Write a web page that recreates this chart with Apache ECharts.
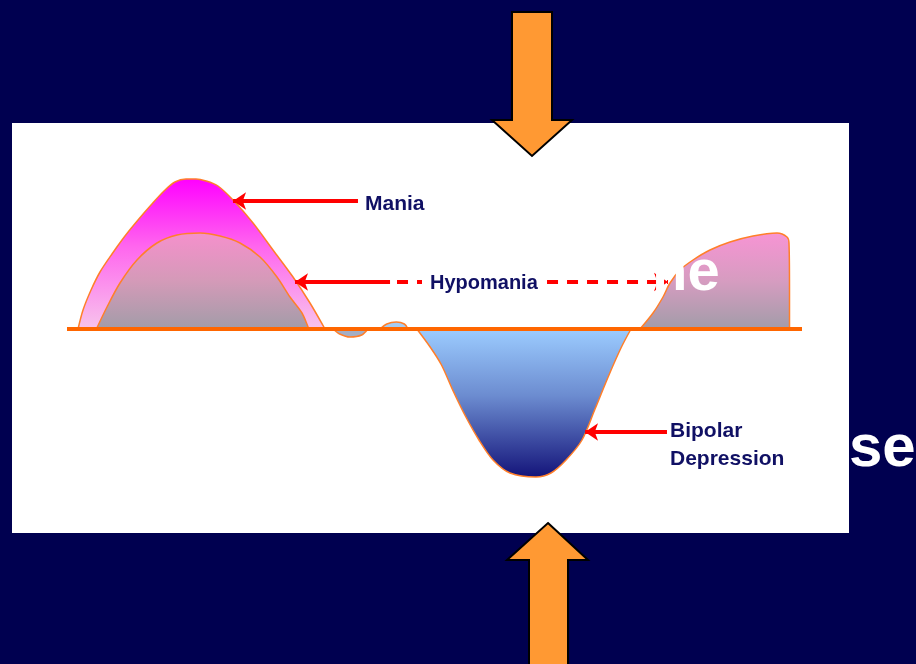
<!DOCTYPE html>
<html>
<head>
<meta charset="utf-8">
<script src="https://cdn.jsdelivr.net/npm/echarts@6/dist/echarts.min.js"></script>
<style>
  html, body { margin: 0; padding: 0; background: #000050; }
  #chart { width: 916px; height: 664px; }
</style>
</head>
<body>
<div id="chart"></div>
<script>
// ---- data (x: time units 0..100, y: mood units -100..100) ----
const maniaCurve = [[1.5,0],[2.18,9.5],[3.27,19.5],[4.49,28.5],[6.12,37.5],[7.89,46.5],[9.66,54.5],[11.43,62],[13.2,69],[14.69,73.5],[16.19,75],[17.55,75],[18.91,74],[20.54,71.5],[22.59,64.5],[25.31,53],[28.03,39.5],[30.75,26],[33.06,13],[35.1,0]];
const hypomaniaCurve = [[4.0,0],[5.44,11],[7.21,23],[9.52,34.5],[12.24,43],[14.97,47],[18.1,48],[20.82,46.5],[23.54,43],[26.26,36],[28.57,26],[30.34,16],[31.97,8],[32.9,0]];
const dipCurve = [[36.19,0],[37.1,-2.5],[38.5,-4],[40.1,-3],[40.95,0]];
const bumpCurve = [[42.6,0],[43.5,2.5],[44.8,3.5],[45.9,2.5],[46.4,0]];
const depressionCurve = [[47.6,0],[49.5,-9.5],[50.95,-18],[52.6,-31.5],[54.2,-43.5],[56.05,-55.5],[57.96,-65.5],[60.27,-72],[63.8,-74],[65.85,-72],[67.9,-65.5],[70.07,-55.5],[71.84,-40],[73.74,-23],[75.37,-9.5],[76.73,0]];
const rightHumpCurve = [[77.96,0],[79.73,8],[81.09,16],[82.04,23],[83.4,29.5],[85.17,34.5],[87.48,39.5],[90.2,43.5],[93.33,46.5],[96.6,48],[97.96,46],[98.23,43],[98.3,20],[98.3,0]];
const baselineLine = [[0,0],[100,0]];
// annotation pointer lines
const maniaPointer = [[22.59,64],[39.59,64]];
const hypomaniaPointerSolid = [[31.02,23.5],[43.95,23.5]];
const hypomaniaPointerDash1 = [[44.9,23.5],[48.3,23.5]];
const hypomaniaPointerDash2 = [[65.31,23.5],[81.77,23.5]];
const depressionPointer = [[70.48,-51.5],[81.63,-51.5]];
const labels = { mania: 'Mania', hypomania: 'Hypomania', bipolar1: 'Bipolar', bipolar2: 'Depression' };
const overlayText = { line1: 'ne', line2: 'se' };

const chart = echarts.init(document.getElementById('chart'), null, { renderer: 'canvas' });
const G = echarts.graphic.LinearGradient;
const outline = { color: '#FF7F2A', width: 1.5 };

function area(name, data, grad, z) {
  return {
    name, type: 'line', data, symbol: 'none', smooth: 0.3, z: z || 2,
    lineStyle: outline,
    areaStyle: { color: grad, opacity: 1, origin: 0 },
    silent: true
  };
}
function pointer(coords, opts) {
  return {
    type: 'lines', coordinateSystem: 'cartesian2d', z: 5, silent: true,
    symbol: opts.symbol, symbolSize: [13, 14],
    lineStyle: { color: '#FF0000', width: 4, opacity: 1, type: opts.type || 'solid' },
    data: [{ coords }]
  };
}

const navy = '#101064';
const textFont = 'Arial, "Liberation Sans", sans-serif';

chart.setOption({
  animation: false,
  backgroundColor: '#000050',
  grid: { left: 67, width: 735, top: 129, height: 400 },
  xAxis: { type: 'value', min: 0, max: 100, show: false },
  yAxis: { type: 'value', min: -100, max: 100, show: false },
  graphic: [
    { type: 'rect', z: -10, shape: { x: 12, y: 123, width: 837, height: 410 }, style: { fill: '#FFFFFF' } },
    { type: 'text', z: 50, style: { x: 365, y: 204, text: labels.mania, fill: navy, font: 'bold 21px ' + textFont, verticalAlign: 'middle' } },
    { type: 'text', z: 50, style: { x: 430, y: 283, text: labels.hypomania, fill: navy, font: 'bold 20px ' + textFont, verticalAlign: 'middle' } },
    { type: 'text', z: 50, style: { x: 670, y: 431, text: labels.bipolar1, fill: navy, font: 'bold 21px ' + textFont, verticalAlign: 'middle' } },
    { type: 'text', z: 50, style: { x: 670, y: 459, text: labels.bipolar2, fill: navy, font: 'bold 21px ' + textFont, verticalAlign: 'middle' } },
    { type: 'text', z: 60, style: { x: 652, y: 274, text: overlayText.line1, fill: '#FFFFFF', font: 'bold 58px ' + textFont, verticalAlign: 'middle' } },
    { type: 'text', z: 60, style: { x: 849, y: 449, text: overlayText.line2, fill: '#FFFFFF', font: 'bold 60px ' + textFont, verticalAlign: 'middle' } },
    { type: 'polygon', z: 70, shape: { points: [[512,12],[552,12],[552,120],[572,120],[532,156],[492,120],[512,120]] }, style: { fill: '#FF9933', stroke: '#000000', lineWidth: 2 } },
    { type: 'polygon', z: 70, shape: { points: [[548,523],[588,560],[568,560],[568,670],[529,670],[529,560],[507,560]] }, style: { fill: '#FF9933', stroke: '#000000', lineWidth: 2 } }
  ],
  series: [
    area('Mania', maniaCurve, new G(0,0,0,1,[{offset:0,color:'#FF00FF'},{offset:0.45,color:'#FF66EE'},{offset:1,color:'#F7C4EC'}])),
    area('Hypomania', hypomaniaCurve, new G(0,0,0,1,[{offset:0,color:'#F590CC'},{offset:0.5,color:'#D49AB8'},{offset:1,color:'#A29CA8'}])),
    area('Dip', dipCurve, '#A4AEC4'),
    area('Bump', bumpCurve, '#A6CCF2'),
    area('Depression', depressionCurve, new G(0,0,0,1,[{offset:0,color:'#9CCCFF'},{offset:0.45,color:'#6C8CD0'},{offset:1,color:'#14147A'}])),
    area('Hypomania 2', rightHumpCurve, new G(0,0,0,1,[{offset:0,color:'#F794D4'},{offset:0.5,color:'#D69CC0'},{offset:1,color:'#A29CA8'}])),
    { name: 'Baseline', type: 'line', data: baselineLine, symbol: 'none', z: 4, silent: true, lineStyle: { color: '#FF6600', width: 4 } },
    pointer(maniaPointer, { symbol: ['arrow', 'none'] }),
    pointer(hypomaniaPointerSolid, { symbol: ['arrow', 'none'] }),
    pointer(hypomaniaPointerDash1, { symbol: ['none', 'none'], type: [11, 9] }),
    pointer(hypomaniaPointerDash2, { symbol: ['none', 'arrow'], type: [11, 9] }),
    pointer(depressionPointer, { symbol: ['arrow', 'none'] })
  ]
});
</script>
</body>
</html>
